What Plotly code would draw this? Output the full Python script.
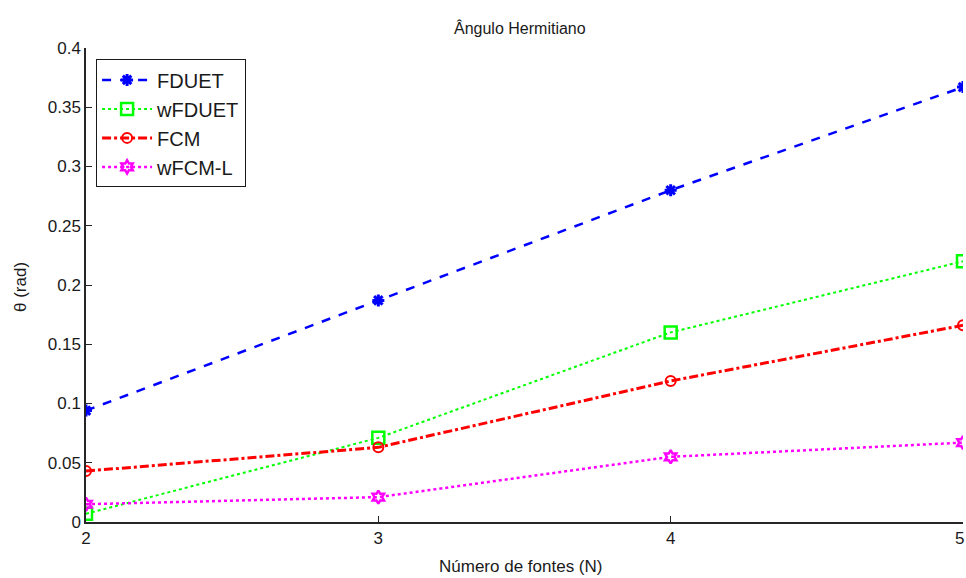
import plotly.graph_objects as go

# Number of sources and Hermitian angle (rad) for each method
n_sources = [2, 3, 4, 5]
fduet = [0.094, 0.187, 0.280, 0.367]
wfduet = [0.007, 0.071, 0.160, 0.220]
fcm = [0.043, 0.063, 0.119, 0.166]
wfcm_l = [0.015, 0.021, 0.055, 0.067]

y_ticks = [0, 0.05, 0.1, 0.15, 0.2, 0.25, 0.3, 0.35, 0.4]
y_tick_text = ["0", "0.05", "0.1", "0.15", "0.2", "0.25", "0.3", "0.35", "0.4"]
x_ticks = [2, 3, 4, 5]

FONT = "Liberation Sans Narrow, Arial Narrow, Liberation Sans, Arial, sans-serif"

fig = go.Figure()
fig.add_trace(go.Scatter(
    x=n_sources, y=fduet, name="FDUET", mode="lines+markers",
    line=dict(color="#0000ff", width=2.5, dash="dash"),
    marker=dict(symbol="asterisk-open", size=10, color="#0000ff",
                line=dict(color="#0000ff", width=3)),
))
fig.add_trace(go.Scatter(
    x=n_sources, y=wfduet, name="wFDUET", mode="lines+markers",
    line=dict(color="#00ff00", width=2, dash="dot"),
    marker=dict(symbol="square-open", size=12, color="#00ff00",
                line=dict(color="#00ff00", width=2.5)),
))
fig.add_trace(go.Scatter(
    x=n_sources, y=fcm, name="FCM", mode="lines+markers",
    line=dict(color="#ff0000", width=3, dash="dashdot"),
    marker=dict(symbol="circle-open", size=10, color="#ff0000",
                line=dict(color="#ff0000", width=2)),
))
fig.add_trace(go.Scatter(
    x=n_sources, y=wfcm_l, name="wFCM-L", mode="lines+markers",
    line=dict(color="#ff00ff", width=2.5, dash="dot"),
    marker=dict(symbol="hexagram-open", size=10, color="#ff00ff",
                line=dict(color="#ff00ff", width=2.5)),
))

x_tick_labels = [str(v) for v in x_ticks]

fig.update_layout(
    width=966, height=578,
    margin=dict(l=86, r=3, t=48, b=56),
    paper_bgcolor="white", plot_bgcolor="white",
    font=dict(family=FONT, size=16, color="#1a1a1a"),
    showlegend=True,
    legend=dict(
        x=0.0115, y=0.976, xanchor="left", yanchor="top",
        bgcolor="white", bordercolor="#1a1a1a", borderwidth=1,
        font=dict(family=FONT, size=20, color="#1a1a1a"),
        itemwidth=50, tracegroupgap=0,
    ),
    xaxis=dict(
        range=[2, 5], tickvals=x_ticks[:-1], ticktext=x_tick_labels[:-1],
        showgrid=False, zeroline=False, showline=True, linecolor="#262626",
        linewidth=1.5, ticks="inside", ticklen=6, tickcolor="#262626",
        tickfont=dict(family=FONT, size=17), mirror=False,
    ),
    yaxis=dict(
        range=[0, 0.4], tickvals=y_ticks, ticktext=y_tick_text,
        showgrid=False, zeroline=False, showline=True, linecolor="#262626",
        linewidth=1.5, ticks="inside", ticklen=6, tickcolor="#262626",
        tickfont=dict(family=FONT, size=17), mirror=False,
    ),
    annotations=[
        dict(text="Ângulo Hermitiano", x=520, y=28, xref="paper", yref="paper",
             showarrow=False, font=dict(family=FONT, size=16)),
        dict(text="Número de fontes (N)", x=520, y=566, xref="paper", yref="paper",
             showarrow=False, font=dict(family=FONT, size=17)),
        dict(text="θ (rad)", x=20, y=287, xref="paper", yref="paper",
             showarrow=False, textangle=-90, font=dict(family=FONT, size=17)),
    ],
)

# Annotation positions above are given in pixels; convert to paper fractions
W, H = 966, 578
L, R, T, B = 86, 3, 48, 56
pw, ph = W - L - R, H - T - B
for ann in fig.layout.annotations:
    ann.x = (ann.x - L) / pw
    ann.y = (H - B - ann.y) / ph
    ann.xanchor = "center"
    ann.yanchor = "middle"

# Last x tick label sits at the right edge of the canvas, kept inside it
fig.add_annotation(
    text=x_tick_labels[-1], x=x_ticks[-1], xref="x", y=0, yref="paper",
    yshift=-16, xshift=3, showarrow=False, xanchor="right", yanchor="middle",
    font=dict(family=FONT, size=17),
)

fig.write_html("out.html")
